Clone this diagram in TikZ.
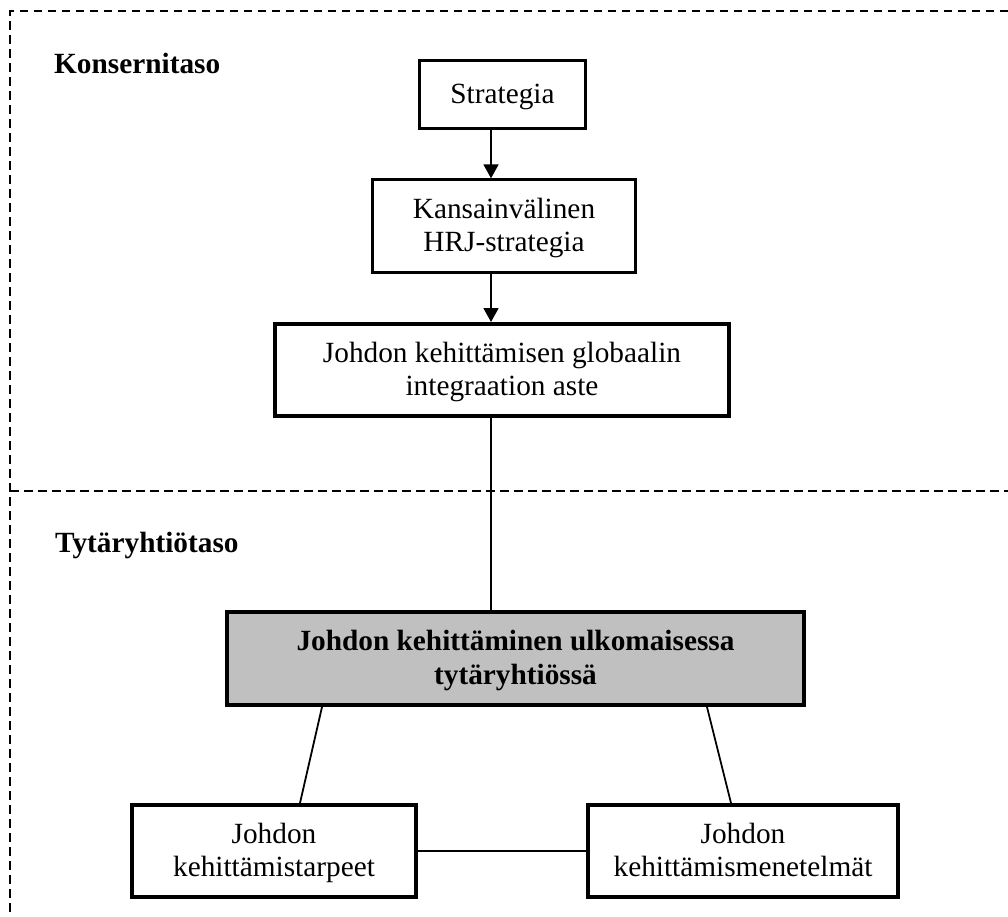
\documentclass[tikz,border=0pt]{standalone}
\usepackage{fontspec}
\setmainfont{Liberation Serif}
\usetikzlibrary{arrows.meta}
\definecolor{boxgray}{RGB}{192,192,192}
\begin{document}
\begin{tikzpicture}[x=1pt,y=-1pt,
  box/.style={draw, rectangle, line width=2.4pt, inner sep=0pt, align=center,
    text depth=0.22em, font=\fontsize{29.3}{33.5}\selectfont},
  heavy/.style={box, line width=4pt},
  link/.style={line width=1.8pt},
  flow/.style={link, -{Triangle[width=15pt,length=14pt]}},
  level/.style={anchor=base west, inner sep=0pt, font=\fontsize{29.3}{33.5}\selectfont\bfseries},
  frame/.style={line width=2pt, dash pattern=on 8.5pt off 5.5pt}
]
\useasboundingbox (0,0) rectangle (1008,916);

% dashed level frame
\draw[frame] (1008,11) -- (10,11) -- (10,916);
\draw[frame] (10,491) -- (1008,491);

% level labels
\node[level] (corp) at (54,73) {Konsernitaso};
\node[level] (sub) at (55,552) {Tytäryhtiötaso};

% boxes
\node[box, minimum width=166pt, minimum height=68pt] (strat) at (502.5,94.5) {Strategia};
\node[box, minimum width=263pt, minimum height=93pt] (hrj) at (504,226) {Kansainvälinen\\HRJ-strategia};
\node[heavy, minimum width=454pt, minimum height=92pt] (glob) at (502,370) {Johdon kehittämisen globaalin\\integraation aste};
\node[heavy, fill=boxgray, minimum width=577pt, minimum height=93pt] (unit) at (515.5,658.5)
  {\bfseries Johdon kehittäminen ulkomaisessa\\\bfseries tytäryhtiössä};
\node[heavy, minimum width=284pt, minimum height=92pt] (needs) at (274,851) {Johdon\\kehittämistarpeet};
\node[heavy, minimum width=310pt, minimum height=92pt] (methods) at (743,851) {Johdon\\kehittämismenetelmät};

% connector positions
\coordinate (spine) at (491,0);
\coordinate (ltop) at (322,0);
\coordinate (lbot) at (300,0);
\coordinate (rtop) at (707,0);
\coordinate (rbot) at (731,0);

% connectors
\draw[flow] (strat.south -| spine) -- (hrj.north -| spine);
\draw[flow] (hrj.south -| spine) -- (glob.north -| spine);
\draw[link] (glob.south -| spine) -- (unit.north -| spine);
\draw[link] (unit.south -| ltop) -- (needs.north -| lbot);
\draw[link] (unit.south -| rtop) -- (methods.north -| rbot);
\draw[link] (needs.east) -- (methods.west);
\end{tikzpicture}
\end{document}
